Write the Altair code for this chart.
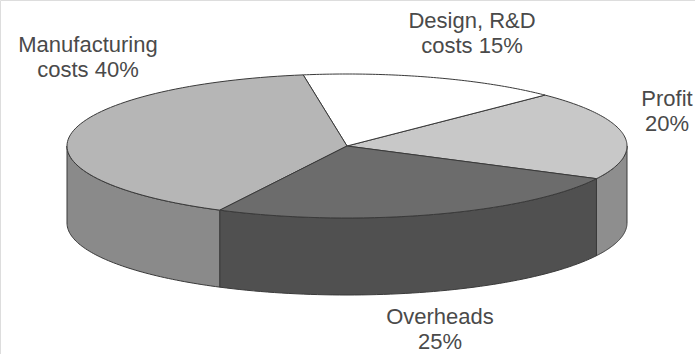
import math
import altair as alt
import pandas as pd

# ---- data ----
parts = ["Profit", "Design, R&D costs", "Manufacturing costs", "Overheads"]
shares = [20, 15, 40, 25]          # percent
label_lines = [["Profit", "20%"], ["Design, R&D", "costs 15%"],
               ["Manufacturing", "costs 40%"], ["Overheads", "25%"]]
top_colors = ["#c8c8c8", "#ffffff", "#b6b6b6", "#6c6c6c"]
side_colors = ["#8e8e8e", "#ffffff", "#8a8a8a", "#505050"]

# ---- layout (pixels of the 695x354 canvas) ----
W, H = 695, 354
CX, CY = 347, 146      # centre of top face
RX, RY = 280, 72       # ellipse radii
DEPTH = 77             # thickness of the disc
START = 333            # parametric angle where the first slice starts (deg)
label_pos = [(667, 106), (472, 28), (88, 52), (440, 324)]
LINE_GAP = 25

def pt(t, dy=0):
    r = math.radians(t)
    return CX + RX * math.cos(r), CY - RY * math.sin(r) + dy

rows = []
bounds = []
a = START
for s in shares:
    b = a + s * 3.6
    bounds.append((a, b))
    a = b

# side walls (visible front half: 180..360 deg)
for name, (a0, a1), col in zip(parts, bounds, side_colors):
    for off in (0, 360):
        lo, hi = max(a0, 180 + off), min(a1, 360 + off)
        if hi <= lo:
            continue
        n = 60
        seq = [lo + (hi - lo) * i / n for i in range(n + 1)]
        i = 0
        key = "side " + name
        for t in seq:
            x, y = pt(t)
            rows.append(dict(poly=key, layer=0, i=i, x=x, y=y)); i += 1
        for t in reversed(seq):
            x, y = pt(t, DEPTH)
            rows.append(dict(poly=key, layer=0, i=i, x=x, y=y)); i += 1
        x, y = pt(seq[0])
        rows.append(dict(poly=key, layer=0, i=i, x=x, y=y))

# top faces
for name, (a0, a1) in zip(parts, bounds):
    key = "top " + name
    i = 0
    rows.append(dict(poly=key, layer=1, i=i, x=CX, y=CY)); i += 1
    n = 80
    for k in range(n + 1):
        t = a0 + (a1 - a0) * k / n
        x, y = pt(t)
        rows.append(dict(poly=key, layer=1, i=i, x=x, y=y)); i += 1
    rows.append(dict(poly=key, layer=1, i=i, x=CX, y=CY))

df = pd.DataFrame(rows)

dom = ["side " + p for p in parts] + ["top " + p for p in parts]
rng = side_colors + top_colors

xs = alt.Scale(domain=[0, W], nice=False, zero=False)
ys = alt.Scale(domain=[0, H], nice=False, zero=False, reverse=True)

def face_layer(layer):
    return alt.Chart(df).transform_filter(alt.datum.layer == layer).mark_line(
        stroke="#3a3a3a", strokeWidth=1, strokeJoin="round"
    ).encode(
        x=alt.X("x:Q", scale=xs, axis=None),
        y=alt.Y("y:Q", scale=ys, axis=None),
        fill=alt.Fill("poly:N", scale=alt.Scale(domain=dom, range=rng), legend=None),
        detail="poly:N",
        order="i:Q",
    )

lab_rows = []
for lines, (lx, ly) in zip(label_lines, label_pos):
    for j, txt in enumerate(lines):
        lab_rows.append(dict(text=txt, x=lx, y=ly + j * LINE_GAP))
labels = pd.DataFrame(lab_rows)

text = alt.Chart(labels).mark_text(
    font="Liberation Sans", fontSize=22, color="#4a4a4a",
    align="center", baseline="alphabetic"
).encode(
    x=alt.X("x:Q", scale=xs, axis=None),
    y=alt.Y("y:Q", scale=ys, axis=None),
    text="text:N",
)

chart = alt.layer(face_layer(0), face_layer(1), text).properties(
    width=W, height=H, padding=0, autosize=alt.AutoSizeParams(type="none")
).configure_view(stroke=None).configure(background="white")

chart.save("out.html", embed_options={"renderer": "svg", "actions": False})
